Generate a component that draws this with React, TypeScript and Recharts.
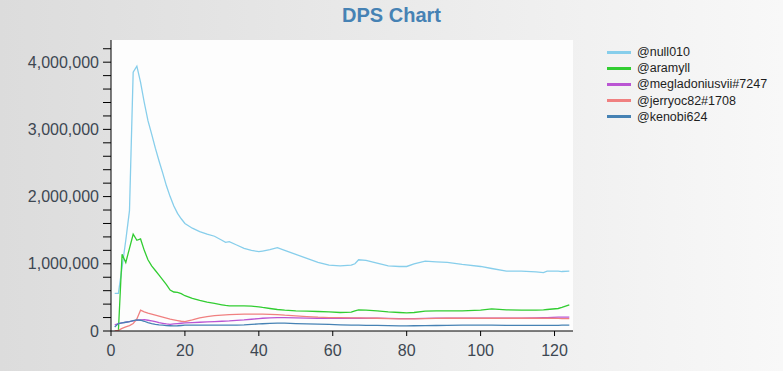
import { LineChart, Line, XAxis, YAxis, CartesianGrid } from 'recharts';

// seconds into the fight
const times = [
  1, 2, 3, 4, 5, 6, 7, 8, 9, 10, 11, 12, 13, 14, 15, 16, 17, 18, 19, 20,
  22, 24, 26, 28, 30, 31, 32, 34, 36, 38, 40, 41, 43, 45, 47, 50,
  53, 56, 59, 62, 65, 66, 67, 69, 72, 75, 78, 80, 82, 85, 88,
  91, 95, 100, 103, 107, 111, 115, 117, 118, 121, 122, 124,
];

// DPS per player, in thousands
const null010 = [
  560, 560, 950, 1350, 1790, 3850, 3940, 3700, 3400, 3130, 2930, 2720, 2530, 2350, 2160, 2000, 1860, 1750, 1670, 1600,
  1530, 1480, 1440, 1410, 1350, 1320, 1330, 1280, 1230, 1200, 1180, 1190, 1210, 1240, 1200, 1140,
  1080, 1020, 980, 970, 980, 1000, 1060, 1050, 1010, 970, 960, 960, 1000, 1040, 1030,
  1020, 990, 960, 930, 890, 890, 880, 870, 890, 890, 885, 890,
];
const aramyll = [
  null, 0, 1140, 1020, 1230, 1440, 1350, 1370, 1200, 1060, 970, 900, 830, 760, 690, 610, 580, 575, 555, 525,
  485, 455, 430, 410, 390, 380, 375, 375, 375, 370, 360, 350, 335, 320, 310, 300,
  295, 290, 285, 275, 280, 300, 315, 310, 300, 285, 275, 270, 275, 295, 300,
  300, 300, 310, 330, 315, 310, 310, 315, 320, 335, 350, 390,
];
const megladoniusvii = [
  90, 110, 120, 130, 140, 150, 160, 165, 170, 160, 150, 140, 125, 115, 105, 100, 105, 110, 115, 120,
  125, 130, 135, 140, 145, 148, 150, 158, 165, 175, 185, 190, 195, 198, 198, 195,
  192, 190, 190, 190, 190, 190, 190, 190, 190, 188, 185, 185, 185, 188, 190,
  190, 190, 190, 190, 192, 192, 195, 198, 200, 205, 205, 205,
];
const jerryoc82 = [
  0, 10, 40, 60, 80, 110, 180, 310, 285, 265, 250, 235, 220, 205, 190, 175, 165, 155, 145, 140,
  165, 195, 215, 228, 237, 240, 243, 247, 250, 250, 250, 250, 248, 245, 235, 225,
  215, 205, 200, 198, 195, 195, 195, 193, 190, 185, 180, 180, 180, 185, 188,
  190, 190, 190, 190, 190, 190, 190, 190, 190, 188, 185, 185,
];
const kenobi624 = [
  60, 110, 120, 130, 140, 155, 165, 160, 145, 125, 110, 100, 92, 86, 80, 78, 76, 78, 82, 86,
  88, 88, 88, 88, 87, 86, 86, 86, 90, 98, 105, 108, 114, 118, 116, 110,
  106, 102, 98, 92, 88, 86, 86, 85, 84, 80, 76, 76, 78, 80, 82,
  84, 86, 86, 86, 85, 84, 84, 84, 84, 85, 86, 86,
];

const seriesNames = ['@null010', '@aramyll', '@megladoniusvii#7247', '@jerryoc82#1708', '@kenobi624'];
const seriesValues = [null010, aramyll, megladoniusvii, jerryoc82, kenobi624];
const COLORS = ['#87CEEB', '#32CD32', '#BA55D3', '#F08080', '#4682B4'];

const xTicks = [0, 20, 40, 60, 80, 100, 120];
const yTicks = Array.from({ length: 22 }, (_, i) => i * 200000);

const data = times.map((t, i) => {
  const row: Record<string, number | null> = { t };
  seriesNames.forEach((name, s) => {
    const v = seriesValues[s][i];
    row[name] = v == null ? null : v * 1000;
  });
  return row;
});

const tickStyle = { fontFamily: 'Liberation Sans, Arial, sans-serif', fontSize: 16, fill: '#3d4752' };

export default function App() {
  return (
    <div
      style={{
        position: 'absolute',
        left: 0,
        top: 0,
        width: 783,
        height: 371,
        background: 'linear-gradient(to right, #dcdcdc, #f8f8f8)',
        fontFamily: 'Liberation Sans, Arial, sans-serif',
      }}
    >
      <div
        style={{
          position: 'absolute',
          left: 0,
          width: 783,
          top: 4,
          textAlign: 'center',
          fontSize: 20,
          fontWeight: 'bold',
          color: '#4682B4',
        }}
      >
        DPS Chart
      </div>

      <LineChart
        width={783}
        height={371}
        data={data}
        margin={{ top: 40, right: 210, bottom: 0, left: 0 }}
      >
        <CartesianGrid fill="#fdfdfd" horizontal={false} vertical={false} />
        <XAxis
          dataKey="t"
          type="number"
          domain={[0, 125]}
          ticks={xTicks}
          height={40}
          tickSize={5}
          tickMargin={9}
          stroke="#000"
          tick={tickStyle}
          interval={0}
        />
        <YAxis
          type="number"
          domain={[0, 4330000]}
          ticks={yTicks}
          width={111}
          tickSize={8}
          tickMargin={4}
          stroke="#000"
          tick={tickStyle}
          interval={0}
          allowDataOverflow
          tickFormatter={(v: number) => (v % 1000000 === 0 ? v.toLocaleString('en-US') : '')}
        />
        {seriesNames.map((name, i) => (
          <Line
            key={name}
            dataKey={name}
            type="linear"
            stroke={COLORS[i]}
            strokeWidth={1.3}
            dot={false}
            connectNulls={false}
            isAnimationActive={false}
          />
        ))}
      </LineChart>

      {/* legend */}
      <div style={{ position: 'absolute', left: 607, top: 44 }}>
        {seriesNames.map((name, i) => (
          <div key={name} style={{ display: 'flex', alignItems: 'center', height: 16.2 }}>
            <div style={{ width: 24, height: 3, background: COLORS[i], marginRight: 6 }} />
            <span style={{ fontSize: 12.5, color: '#1e1e1e' }}>{name}</span>
          </div>
        ))}
      </div>
    </div>
  );
}
